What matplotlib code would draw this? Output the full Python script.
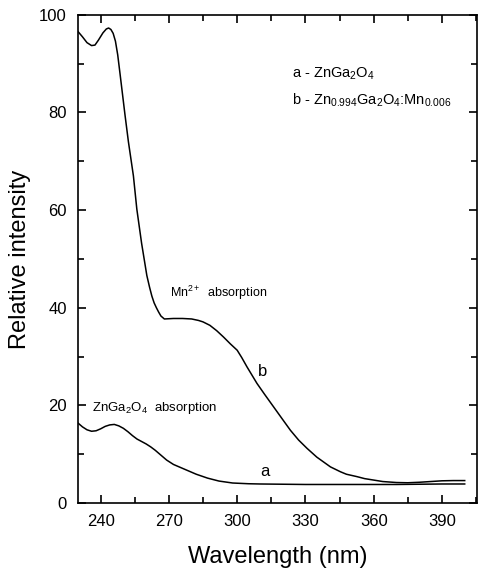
import numpy as np
import matplotlib.pyplot as plt
from matplotlib.ticker import MultipleLocator

plt.rcParams['font.family'] = ['Liberation Sans', 'DejaVu Sans']
plt.rcParams['mathtext.fontset'] = 'custom'
plt.rcParams['mathtext.rm'] = 'Liberation Sans'
plt.rcParams['mathtext.it'] = 'Liberation Sans'

# widmo b: Zn0.994Ga2O4:Mn0.006
wl_b = [230, 232, 234, 236, 237.5, 239, 241, 242.5, 243.5, 244.5, 245.5, 246.5, 247.5,
        248.5, 250.7, 252.2, 254.4, 255.9, 258, 260.3, 261.5, 262.5, 263.5, 264.5,
        265.5, 266.5, 268, 272, 276, 280, 283, 285, 288, 291, 294, 297, 300, 302,
        304.3, 306.5, 308.7, 312, 316, 320, 323.4, 327, 330.7, 335, 338, 341, 345.4,
        348, 352.7, 356, 360, 364, 370, 375, 380, 385, 390, 395, 400]
int_b = [96.6, 95.5, 94.3, 93.7, 93.8, 94.8, 96.3, 97.1, 97.3, 97.0, 96.2, 94.6, 91.8,
         88.0, 79.5, 74.0, 67.0, 60.2, 53.2, 46.6, 44.2, 42.4, 41.0, 40.0,
         39.1, 38.3, 37.7, 37.8, 37.8, 37.7, 37.4, 37.1, 36.4, 35.3, 34.0, 32.6, 31.3, 29.8,
         27.9, 26.2, 24.5, 22.3, 19.7, 17.1, 14.9, 12.9, 11.2, 9.4, 8.4, 7.4, 6.4,
         5.9, 5.4, 5.0, 4.7, 4.4, 4.2, 4.15, 4.25, 4.4, 4.55, 4.6, 4.6]

# widmo a: ZnGa2O4
wl_a = [230, 232, 234, 236, 238, 240, 242, 244, 246, 248, 250, 252, 254, 256, 258, 260,
        262, 264, 266, 269, 272, 275, 278, 282, 287, 292, 298, 305, 310, 330, 350,
        370, 390, 400]
int_a = [16.4, 15.6, 15.0, 14.7, 14.8, 15.2, 15.7, 16.0, 16.1, 15.8, 15.3, 14.6, 13.8,
         13.1, 12.6, 12.1, 11.5, 10.8, 10.0, 8.8, 7.9, 7.3, 6.7, 5.9, 5.1, 4.5, 4.1,
         3.95, 3.9, 3.8, 3.8, 3.8, 3.9, 3.9]

fig = plt.figure(figsize=(4.93, 5.70), dpi=100)
ax = fig.add_axes([0.158, 0.1175, 0.81, 0.8565])

ax.plot(wl_b, int_b, color='black', lw=1.1)
ax.plot(wl_a, int_a, color='black', lw=1.1)

ax.set_xlim(230, 405.5)
ax.set_ylim(0, 100)
ax.xaxis.set_major_locator(MultipleLocator(30))
ax.xaxis.set_minor_locator(MultipleLocator(15))
ax.yaxis.set_major_locator(MultipleLocator(20))
ax.yaxis.set_minor_locator(MultipleLocator(10))
ax.set_xticks([240, 270, 300, 330, 360, 390])
ax.tick_params(which='both', direction='in', top=True, right=True, width=1.2)
ax.tick_params(which='major', length=6, labelsize=12, pad=8)
ax.tick_params(which='minor', length=4)
for s in ax.spines.values():
    s.set_linewidth(1.2)

ax.set_xlabel('Wavelength (nm)', fontsize=17, labelpad=12)
ax.set_ylabel('Relative intensity', fontsize=17, labelpad=6)

# opisy krzywych
ax.text(311, 27, 'b', fontsize=12, ha='center', va='center')
ax.text(312, 6.4, 'a', fontsize=12, ha='center', va='center')
ax.text(270.5, 43, r'Mn$^{2+}$  absorption', fontsize=9, va='center')
ax.text(236, 19.4, r'ZnGa$_2$O$_4$  absorption', fontsize=9.5, va='center')
ax.text(324, 88, r'a - ZnGa$_2$O$_4$', fontsize=10.5, va='center')
ax.text(324, 82.5, r'b - Zn$_{0.994}$Ga$_2$O$_4$:Mn$_{0.006}$', fontsize=10.5, va='center')

fig.savefig('out.png', dpi=100)
